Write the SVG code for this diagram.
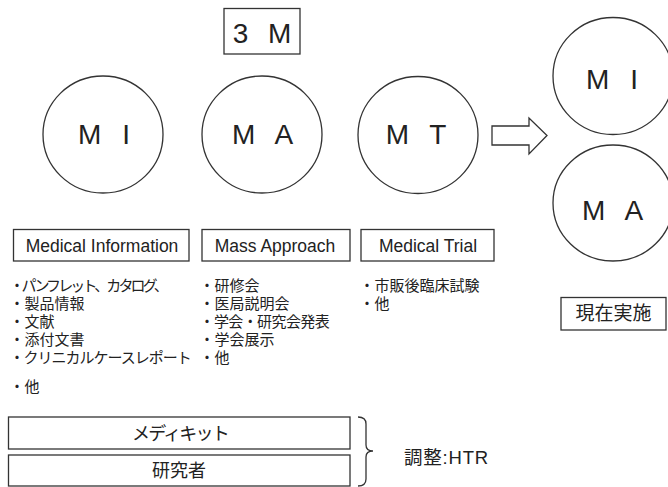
<svg xmlns="http://www.w3.org/2000/svg" width="668" height="487" viewBox="0 0 668 487">
  <style>
    .line { fill: none; stroke: #333; stroke-width: 1.3; }
    .box { fill: #fff; stroke: #333; stroke-width: 1.3; }
    .big { font-family: "Liberation Sans", "Noto Sans CJK JP", sans-serif; font-size: 28px; fill: #222; text-anchor: middle; word-spacing: 13px; }
    .lbl { font-family: "Liberation Sans", "Noto Sans CJK JP", sans-serif; font-size: 17.5px; fill: #222; text-anchor: middle; }
    .jp { font-family: "Noto Sans CJK JP", "Liberation Sans", sans-serif; fill: #222; }
    .list { font-size: 15px; }
    .mid { font-size: 18px; text-anchor: middle; }
  </style>

  <rect width="668" height="487" fill="#fff"/>

  <!-- title -->
  <g id="title">
    <rect class="box" x="224" y="8.5" width="76" height="45.5"/>
    <text class="big" x="262" y="43" style="word-spacing:12px">3 M</text>
  </g>

  <!-- the three M circles -->
  <g id="mi">
    <ellipse class="line" cx="103" cy="134.5" rx="60" ry="58.5"/>
    <text class="big" x="104" y="144">M I</text>
  </g>
  <g id="ma">
    <ellipse class="line" cx="262" cy="134.5" rx="60" ry="58.5"/>
    <text class="big" x="262.5" y="144">M A</text>
  </g>
  <g id="mt">
    <ellipse class="line" cx="418" cy="135" rx="60" ry="58.5"/>
    <text class="big" x="416" y="144">M T</text>
  </g>

  <!-- block arrow and brace -->
  <g id="connectors">
    <polygon class="line" points="492,126 529,126 529,118 547,135.5 529,154 529,145 492,145"/>
    <path class="line" d="M358,417 Q366,417 366,424 L366,445 Q366,451 373,451 Q366,451 366,457 L366,479 Q366,486 358,486"/>
  </g>

  <!-- current circles -->
  <g id="mi-now">
    <ellipse class="line" cx="613" cy="76" rx="60" ry="58.5"/>
    <text class="big" x="612" y="88.5">M I</text>
  </g>
  <g id="ma-now">
    <ellipse class="line" cx="613" cy="203" rx="60" ry="58"/>
    <text class="big" x="612.5" y="219.5">M A</text>
  </g>
  <g id="now">
    <rect class="box" x="561" y="297.5" width="105" height="32.5"/>
    <text class="jp mid" x="613.5" y="320" style="font-size:19px">現在実施</text>
  </g>

  <!-- category boxes -->
  <g id="medical-information">
    <rect class="box" x="13.5" y="229.5" width="175.5" height="31.5"/>
    <text class="lbl" x="102" y="251.5">Medical Information</text>
  </g>
  <g id="mass-approach">
    <rect class="box" x="202" y="229.5" width="148" height="31.5"/>
    <text class="lbl" x="275" y="251.5">Mass Approach</text>
  </g>
  <g id="medical-trial">
    <rect class="box" x="361" y="229.5" width="133" height="31.5"/>
    <text class="lbl" x="428" y="251.5">Medical Trial</text>
  </g>

  <!-- item lists -->
  <g id="mi-items" class="jp list">
    <text x="9.5" y="291" style="letter-spacing:-2.9px">・パンフレット、カタログ、</text>
    <text x="9.5" y="309">・製品情報</text>
    <text x="9.5" y="327">・文献</text>
    <text x="9.5" y="345">・添付文書</text>
    <text x="9.5" y="363" style="letter-spacing:-1px">・クリニカルケースレポート</text>
    <text x="9.5" y="392">・他</text>
  </g>
  <g id="ma-items" class="jp list">
    <text x="199.5" y="291">・研修会</text>
    <text x="199.5" y="309">・医局説明会</text>
    <text x="199.5" y="327" style="letter-spacing:-0.6px">・学会・研究会発表</text>
    <text x="199.5" y="345">・学会展示</text>
    <text x="199.5" y="363">・他</text>
  </g>
  <g id="mt-items" class="jp list">
    <text x="359.5" y="291">・市販後臨床試験</text>
    <text x="359.5" y="309">・他</text>
  </g>

  <!-- support bars -->
  <g id="meditkit">
    <rect class="box" x="8.5" y="417" width="341.5" height="32"/>
    <text class="jp mid" x="180" y="439.5" style="letter-spacing:-1.8px">メディキット</text>
  </g>
  <g id="researcher">
    <rect class="box" x="8.5" y="455" width="341.5" height="31"/>
    <text class="jp mid" x="179" y="476.5">研究者</text>
  </g>
  <g id="coordination">
    <text x="404" y="464" style="font-family:'Liberation Sans','Noto Sans CJK JP',sans-serif;font-size:18.5px;fill:#222;letter-spacing:0.8px">調整:HTR</text>
  </g>
</svg>
